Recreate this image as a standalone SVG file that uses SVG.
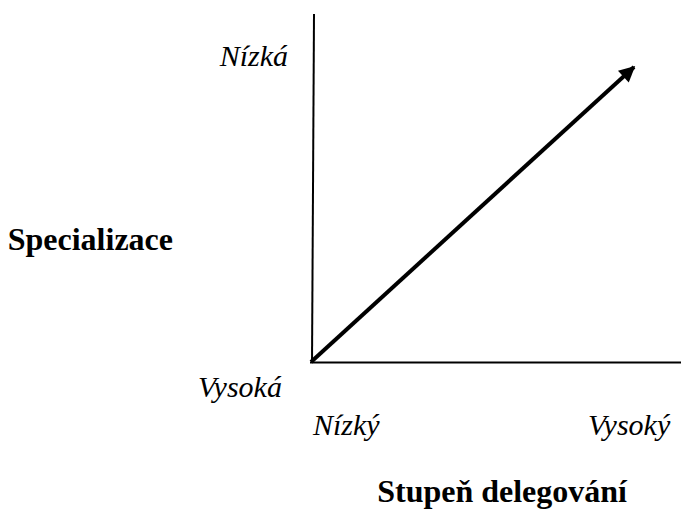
<svg xmlns="http://www.w3.org/2000/svg" width="681" height="512" viewBox="0 0 681 512">
<style>
.it{font-family:"Liberation Serif","Times New Roman",serif;font-style:italic;font-size:30px;fill:#000}
.bd{font-family:"Liberation Serif","Times New Roman",serif;font-weight:bold;font-size:32px;fill:#000}
.ax{stroke:#000;stroke-width:2;fill:none}
</style>
<defs>
<marker id="ah2" viewBox="0 0 10 10" refX="9" refY="5" markerWidth="20" markerHeight="16" orient="auto" markerUnits="userSpaceOnUse">
<path d="M0,0 L10,5 L0,10 Z" fill="#000"/>
</marker>
</defs>
<g id="connectors">
<line class="ax" x1="314" y1="14" x2="312" y2="363"/>
<line class="ax" x1="310" y1="362.5" x2="681" y2="362.5"/>
<line x1="311" y1="362" x2="634" y2="67" stroke="#000" stroke-width="4" marker-end="url(#ah2)"/>
</g>
<g id="label-nizka"><text class="it" x="288" y="66" text-anchor="end">Nízká</text></g>
<g id="label-specializace"><text class="bd" x="173" y="250" text-anchor="end">Specializace</text></g>
<g id="label-vysoka"><text class="it" x="198" y="397">Vysoká</text></g>
<g id="label-nizky"><text class="it" x="313" y="435">Nízký</text></g>
<g id="label-vysoky"><text class="it" x="588" y="435">Vysoký</text></g>
<g id="label-stupen"><text class="bd" x="627" y="502" text-anchor="end">Stupeň delegování</text></g>
</svg>
